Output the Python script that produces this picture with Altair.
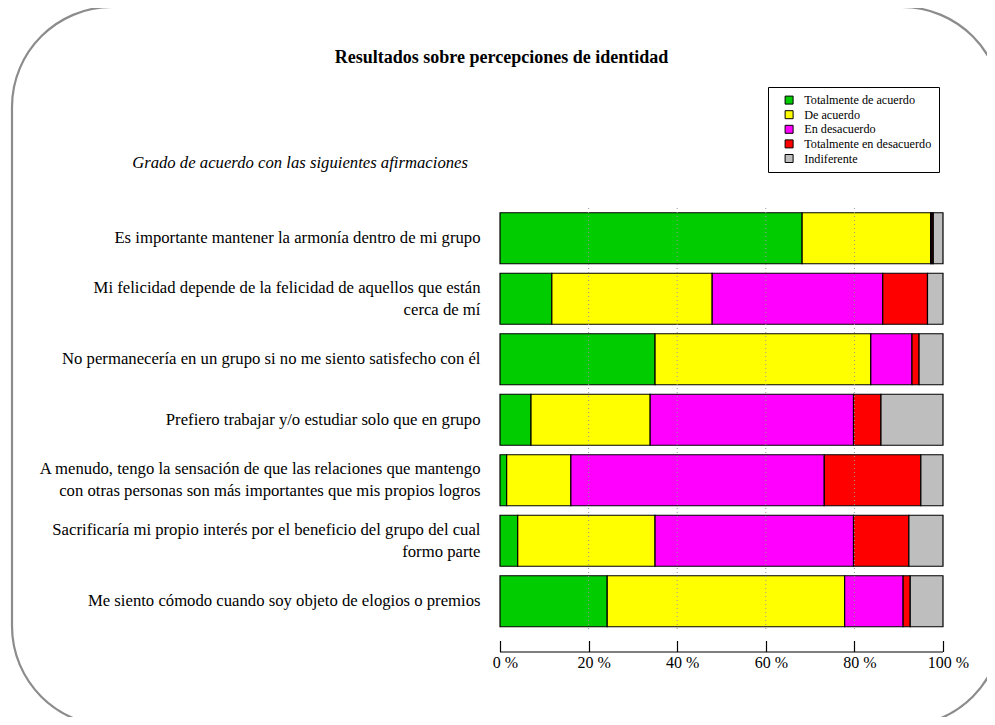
import altair as alt
import pandas as pd

categories = [
    "Es importante mantener la armonía dentro de mi grupo",
    "Mi felicidad depende de la felicidad de aquellos que están|cerca de mí",
    "No permanecería en un grupo si no me siento satisfecho con él",
    "Prefiero trabajar y/o estudiar solo que en grupo",
    "A menudo, tengo la sensación de que las relaciones que mantengo|con otras personas son más importantes que mis propios logros",
    "Sacrificaría mi propio interés por el beneficio del grupo del cual|formo parte",
    "Me siento cómodo cuando soy objeto de elogios o premios",
]
series = ["Totalmente de acuerdo", "De acuerdo", "En desacuerdo",
          "Totalmente en desacuerdo", "Indiferente"]
colors = ["#00CC00", "#FFFF00", "#FF00FF", "#FF0000", "#BEBEBE"]

totalmente_acuerdo = [68.2, 11.7, 35.0, 7.0, 1.5, 4.0, 24.2]
de_acuerdo = [29.0, 36.2, 48.7, 26.9, 14.5, 31.0, 53.6]
en_desacuerdo = [0.3, 38.5, 9.3, 45.9, 57.2, 44.8, 13.2]
totalmente_desacuerdo = [0.3, 10.1, 1.6, 6.2, 21.8, 12.5, 1.6]
indiferente = [2.2, 3.5, 5.4, 14.0, 5.0, 7.7, 7.4]

tick_values = [0, 20, 40, 60, 80, 100]
grid_values = [20, 40, 60, 80]

title_text = "Resultados sobre percepciones de identidad"
subtitle_text = "Grado de acuerdo con las siguientes afirmaciones"

values = [totalmente_acuerdo, de_acuerdo, en_desacuerdo, totalmente_desacuerdo, indiferente]
rows = []
for si, (s, vals) in enumerate(zip(series, values)):
    for c, v in zip(categories, vals):
        rows.append({"cat": c, "serie": s, "val": v, "idx": si})
df = pd.DataFrame(rows)

W = 443
H = 423.5
SERIF = "Liberation Serif"

border = alt.Chart(pd.DataFrame({"a": [0]})).mark_rect(
    filled=False, stroke="#8c8c8c", strokeWidth=2.2, cornerRadius=100
).encode(
    x=alt.value(-488), x2=alt.value(502), y=alt.value(-201), y2=alt.value(518)
)

bars = alt.Chart(df).mark_bar(stroke="black", strokeWidth=1.2).encode(
    y=alt.Y("cat:N", sort=categories,
            scale=alt.Scale(paddingInner=0.157, paddingOuter=0.0785),
            axis=alt.Axis(title=None, labelExpr="split(datum.label, '|')",
                          labelFont=SERIF, labelFontSize=16.7, labelColor="black",
                          labelPadding=20, ticks=False, domain=False, labelLimit=0,
                          labelLineHeight=21.7,
                          labelOffset=alt.ExprRef(expr="indexof(datum.value, '|') >= 0 ? -10.85 : 0"))),
    x=alt.X("val:Q", stack="zero",
            scale=alt.Scale(domain=[0, 100], nice=False),
            axis=alt.Axis(title=None, values=tick_values, grid=False,
                          labelExpr="datum.value + ' %'", labelFont=SERIF,
                          labelFontSize=16, labelColor="black", labelPadding=3,
                          labelOffset=5, labelFlush=False, domain=False,
                          tickSize=11, tickColor="black", tickWidth=1.2,
                          offset=9)),
    color=alt.Color("serie:N", sort=series,
                    scale=alt.Scale(domain=series, range=colors),
                    legend=alt.Legend(title=None, orient="none", legendX=268,
                                      legendY=-121, strokeColor="black",
                                      fillColor="white", padding=7,
                                      symbolType="square", symbolSize=64,
                                      symbolStrokeColor="black",
                                      symbolStrokeWidth=1, symbolOffset=8,
                                      labelFont=SERIF, labelFontSize=12.2,
                                      labelColor="black", rowPadding=1.6,
                                      labelOffset=9)),
    order=alt.Order("idx:Q"),
)

grid = alt.Chart(pd.DataFrame({"g": grid_values})).mark_rule(
    color="#999999", strokeDash=[1, 3], strokeWidth=1
).encode(x=alt.X("g:Q"))

domain_rule = alt.Chart(pd.DataFrame({"a": [0], "b": [100]})).mark_rule(
    color="black", strokeWidth=1.2
).encode(x="a:Q", x2="b:Q", y=alt.value(444))

title = alt.Chart(pd.DataFrame({"t": [title_text]})).mark_text(
    align="center", baseline="middle", font=SERIF, fontSize=18,
    fontWeight="bold", color="black"
).encode(text="t:N", x=alt.value(1.5), y=alt.value(-150))

subtitle = alt.Chart(pd.DataFrame({"t": [subtitle_text]})).mark_text(
    align="right", baseline="middle", font=SERIF, fontSize=16.7,
    fontStyle="italic", color="black"
).encode(text="t:N", x=alt.value(-32), y=alt.value(-45))

chart = alt.layer(border, bars, grid, domain_rule, title, subtitle).properties(
    width=W, height=H,
    autosize=alt.AutoSizeParams(type="none"),
    padding={"left": 492, "top": 200, "right": 44, "bottom": 85.5},
).configure(background="white").configure_view(stroke=None, strokeWidth=0)

chart.save("out.html", embed_options={"renderer": "svg", "actions": False})
